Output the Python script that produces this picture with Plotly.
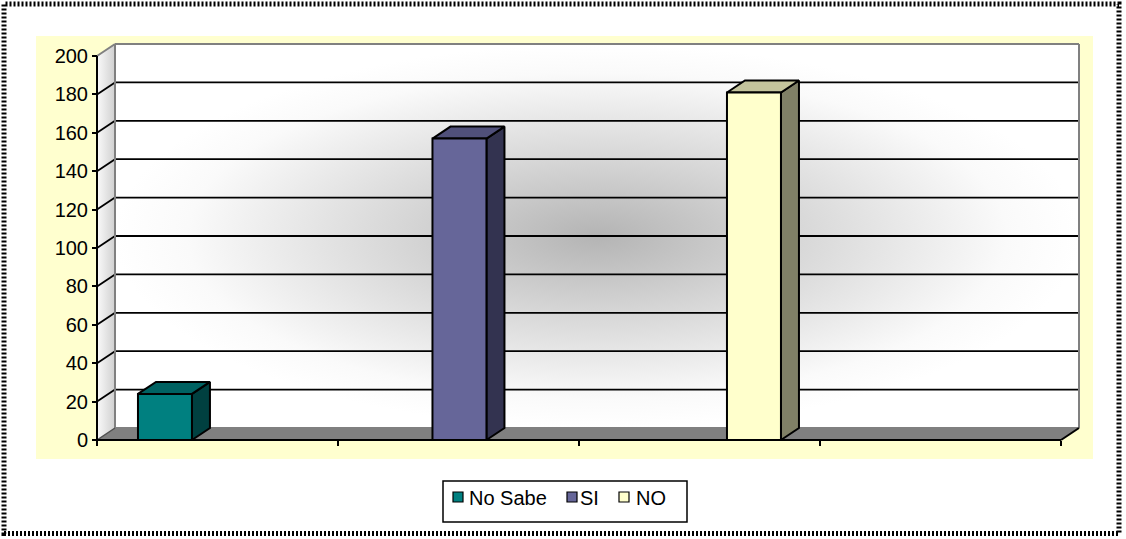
import plotly.graph_objects as go

# ---- data ---------------------------------------------------------------
categories = ["No Sabe", "SI", "NO"]
values = [24, 157, 181]
y_tick_values = [0, 20, 40, 60, 80, 100, 120, 140, 160, 180, 200]
x_tick_values = [0, 1, 2, 3, 4]

front_colors = ["#008080", "#666699", "#FFFFCC"]
top_colors = ["#006262", "#50507A", "#C4C49C"]
side_colors = ["#004040", "#333350", "#808066"]

# ---- layout geometry (pixels) ---------------------------------------------
W, H = 1126, 539
PLOT_L, PLOT_R, PLOT_T, PLOT_B = 36, 1093, 36, 459
AXIS_X_PX = 97          # front vertical axis
ZERO_Y_PX = 440         # front floor line
PX_PER_UNIT = 1.92      # vertical pixels per value unit
PX_PER_SLOT = 241       # horizontal pixels per x-axis division
DEPTH_PX_X, DEPTH_PX_Y = 18, 12

Y_MAX = y_tick_values[-1]
N_SLOTS = x_tick_values[-1]
DX = DEPTH_PX_X / PX_PER_SLOT
DY = DEPTH_PX_Y / PX_PER_UNIT

BAR_FIRST = 0.282
BAR_STEP = 1.222
BAR_WIDTH = 0.224

x_range = [(PLOT_L - AXIS_X_PX) / PX_PER_SLOT, (PLOT_R - AXIS_X_PX) / PX_PER_SLOT]
y_range = [(ZERO_Y_PX - PLOT_B) / PX_PER_UNIT, (ZERO_Y_PX - PLOT_T) / PX_PER_UNIT]


def px_x(p):
    return p / W


def px_y(p):
    return (H - p) / H


FONT = "Arial, Liberation Sans, sans-serif"
FONT_SIZE = 20

fig = go.Figure()


def poly(xs, ys, fill=None, line_color=None, line_width=0, gradient=None):
    kw = dict(
        x=list(xs) + [xs[0]], y=list(ys) + [ys[0]],
        mode="lines", hoverinfo="skip", showlegend=False,
    )
    if fill is not None or gradient is not None:
        kw["fill"] = "toself"
        kw["fillcolor"] = fill if fill is not None else "rgba(0,0,0,0)"
    if gradient is not None:
        kw["fillgradient"] = gradient
    kw["line"] = dict(color=line_color or "rgba(0,0,0,0)", width=line_width)
    fig.add_trace(go.Scatter(**kw))


def segs(pairs, color, width):
    xs, ys = [], []
    for (x0, y0), (x1, y1) in pairs:
        xs += [x0, x1, None]
        ys += [y0, y1, None]
    fig.add_trace(go.Scatter(x=xs, y=ys, mode="lines", hoverinfo="skip",
                             showlegend=False,
                             line=dict(color=color, width=width)))


# back wall with centred grey shading
poly([DX, N_SLOTS + DX, N_SLOTS + DX, DX],
     [DY, DY, Y_MAX + DY, Y_MAX + DY],
     gradient=dict(type="radial",
                   colorscale=[[0, "#B4B4B4"], [0.4, "#D6D6D6"], [0.85, "#FAFAFA"], [1, "#FFFFFF"]]))

# left side wall
poly([0, DX, DX, 0], [0, DY, Y_MAX + DY, Y_MAX],
     gradient=dict(type="horizontal",
                   colorscale=[[0, "#FAFAFA"], [1, "#D0D0D0"]]))

# floor
poly([0, N_SLOTS, N_SLOTS + DX, DX], [0, 0, DY, DY], fill="#808080")

# gridlines on back and side walls
grid_pairs = []
for v in y_tick_values[1:-1]:
    grid_pairs.append(((DX, v + DY), (N_SLOTS + DX, v + DY)))
    grid_pairs.append(((0, v), (DX, v + DY)))
segs(grid_pairs, "#000000", 1.8)

# wall borders
segs([((DX, DY), (DX, Y_MAX + DY)),
      ((DX, Y_MAX + DY), (N_SLOTS + DX, Y_MAX + DY)),
      ((N_SLOTS + DX, Y_MAX + DY), (N_SLOTS + DX, DY)),
      ((DX, DY), (N_SLOTS + DX, DY)),
      ((0, Y_MAX), (DX, Y_MAX + DY))], "#808080", 2)
segs([((0, 0), (DX, DY))], "#505050", 1.5)

# front axis lines
segs([((0, 0), (0, Y_MAX)),
      ((0, 0), (N_SLOTS, 0)),
      ((N_SLOTS, 0), (N_SLOTS + DX, DY))], "#000000", 2)

# 3-D columns
for i, (cat, v) in enumerate(zip(categories, values)):
    c = BAR_FIRST + i * BAR_STEP
    x0, x1 = c - BAR_WIDTH / 2, c + BAR_WIDTH / 2
    poly([x1, x1 + DX, x1 + DX, x1], [0, DY, v + DY, v],
         fill=side_colors[i], line_color="#000000", line_width=2)
    poly([x0, x1, x1 + DX, x0 + DX], [v, v, v + DY, v + DY],
         fill=top_colors[i], line_color="#000000", line_width=2)
    poly([x0, x1, x1, x0], [0, 0, v, v],
         fill=front_colors[i], line_color="#000000", line_width=2)

# ---- legend (drawn as shapes + text) --------------------------------------
shapes = []
LEG_BOX = (443, 481, 687, 522)
shapes.append(dict(type="rect", xref="paper", yref="paper",
                   x0=px_x(LEG_BOX[0]), x1=px_x(LEG_BOX[2]),
                   y0=px_y(LEG_BOX[3]), y1=px_y(LEG_BOX[1]),
                   line=dict(color="#000000", width=1.5), fillcolor="#FFFFFF"))
swatch_left = [453, 567, 619]
text_center = [508, 589, 651]
annotations = []
for i, cat in enumerate(categories):
    shapes.append(dict(type="rect", xref="paper", yref="paper",
                       x0=px_x(swatch_left[i]), x1=px_x(swatch_left[i] + 10),
                       y0=px_y(502), y1=px_y(492),
                       line=dict(color="#000000", width=1.2),
                       fillcolor=front_colors[i]))
    annotations.append(dict(text=cat, xref="paper", yref="paper",
                            x=px_x(text_center[i]), y=px_y(497.5),
                            xanchor="center", yanchor="middle", showarrow=False,
                            font=dict(family=FONT, size=FONT_SIZE, color="#000000")))

# chequered outer frame
shapes.append(dict(type="rect", xref="paper", yref="paper",
                   x0=px_x(4), x1=px_x(1119), y0=px_y(533.5), y1=px_y(4),
                   line=dict(color="#000000", width=5, dash="2px,2px")))

fig.update_layout(
    width=W, height=H,
    margin=dict(l=0, r=0, t=0, b=0),
    paper_bgcolor="#FFFFFF",
    plot_bgcolor="#FFFFCF",
    showlegend=False,
    shapes=shapes,
    annotations=annotations,
    xaxis=dict(
        domain=[px_x(PLOT_L), px_x(PLOT_R)],
        range=x_range, anchor="free", position=px_y(ZERO_Y_PX),
        showgrid=False, zeroline=False, showline=False,
        tickmode="array", tickvals=x_tick_values, showticklabels=False,
        ticks="outside", ticklen=5, tickwidth=2, tickcolor="#000000",
        fixedrange=True, automargin=False,
    ),
    yaxis=dict(
        domain=[px_y(PLOT_B), px_y(PLOT_T)],
        range=y_range, anchor="free", position=px_x(AXIS_X_PX),
        showgrid=False, zeroline=False, showline=False,
        tickmode="array", tickvals=y_tick_values,
        ticks="outside", ticklen=5, tickwidth=2, tickcolor="#000000",
        tickfont=dict(family=FONT, size=FONT_SIZE, color="#000000"),
        fixedrange=True, automargin=False,
    ),
)

fig.write_html("out.html", config={"displayModeBar": False})
